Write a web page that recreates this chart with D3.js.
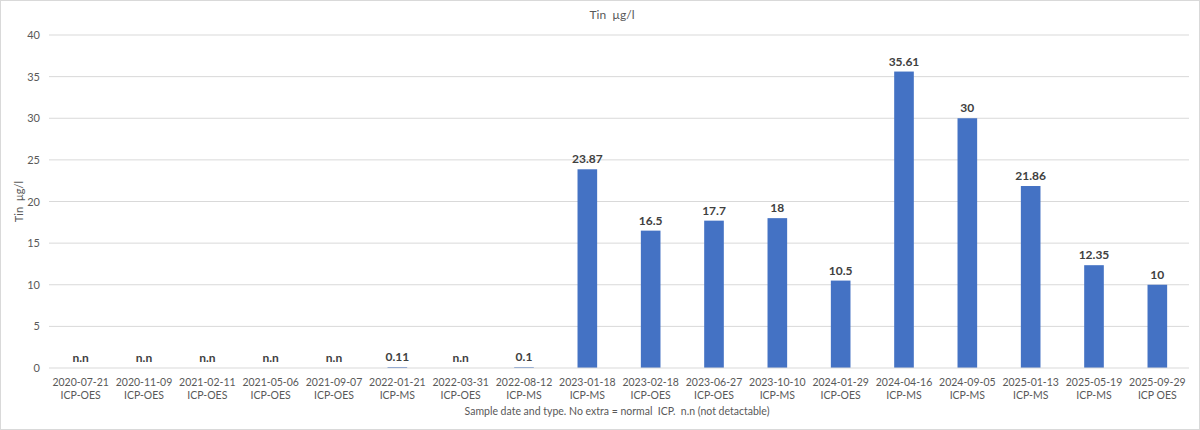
<!DOCTYPE html>
<html>
<head>
<meta charset="utf-8">
<script src="https://cdn.jsdelivr.net/npm/d3@7"></script>
<style>
  body { margin: 0; background: #fff; }
  svg { display: block; font-family: Lato, "Liberation Sans", sans-serif; }
  text { white-space: pre; }
</style>
</head>
<body>
<svg id="chart" width="1200" height="430"></svg>
<script>
// sample dates + method, one per bar
var dates = ["2020-07-21","2020-11-09","2021-02-11","2021-05-06","2021-09-07","2022-01-21",
    "2022-03-31","2022-08-12","2023-01-18","2023-02-18","2023-06-27","2023-10-10",
    "2024-01-29","2024-04-16","2024-09-05","2025-01-13","2025-05-19","2025-09-29"];
var methods = ["ICP-OES","ICP-OES","ICP-OES","ICP-OES","ICP-OES","ICP-MS",
    "ICP-OES","ICP-MS","ICP-MS","ICP-OES","ICP-OES","ICP-MS",
    "ICP-OES","ICP-MS","ICP-MS","ICP-MS","ICP-MS","ICP OES"];
// null = n.n (not detectable)
var tin = [null,null,null,null,null,0.11,null,0.1,23.87,16.5,17.7,18,10.5,35.61,30,21.86,12.35,10];
var yTicks = [0,5,10,15,20,25,30,35,40];

var svg = d3.select("#chart");
var W = 1200, H = 430;
var m = {left: 49, right: 1189, top: 35, bottom: 368};

svg.append("rect")
    .attr("x",0.5).attr("y",0.5)
    .attr("width",W-1).attr("height",H-1)
    .attr("fill","#fff").attr("stroke","#d9d9d9");

var x = d3.scaleBand()
    .domain(d3.range(dates.length))
    .range([m.left,m.right])
    .paddingInner(0.69)
    .paddingOuter(0.345);

var y = d3.scaleLinear().domain([0,40]).range([m.bottom,m.top]);

// gridlines
svg.append("g")
    .selectAll("line")
    .data(yTicks.slice(1))
    .enter()
    .append("line")
    .attr("x1",m.left).attr("x2",m.right)
    .attr("y1",function(d){ return y(d); })
    .attr("y2",function(d){ return y(d); })
    .attr("stroke","#d9d9d9");

// y axis labels
var yAxis = d3.axisLeft(y).tickValues(yTicks).tickSize(0).tickPadding(9);
var gy = svg.append("g").attr("transform","translate("+m.left+",0)").call(yAxis);
gy.select(".domain").remove();
gy.selectAll("text")
    .attr("fill","#595959")
    .style("font-family","Lato, sans-serif")
    .style("font-size","11px");

// bars
svg.append("g")
    .selectAll("rect")
    .data(tin)
    .enter()
    .append("rect")
    .attr("x",function(d,i){ return x(i); })
    .attr("width",x.bandwidth())
    .attr("y",function(d){ return y(d || 0); })
    .attr("height",function(d){ return y(0) - y(d || 0); })
    .attr("fill","#4472c4");

// baseline
svg.append("line")
    .attr("x1",m.left).attr("x2",m.right)
    .attr("y1",y(0)).attr("y2",y(0))
    .attr("stroke","#d9d9d9");

// value labels
svg.append("g")
    .selectAll("text")
    .data(tin)
    .enter()
    .append("text")
    .attr("x",function(d,i){ return x(i) + x.bandwidth()/2; })
    .attr("y",function(d){ return y(d || 0) - 6; })
    .attr("text-anchor","middle")
    .attr("fill","#404040")
    .style("font-size","12px")
    .style("font-weight","bold")
    .text(function(d){ return d === null ? "n.n" : d; });

// x labels, two lines
var xl = svg.append("g")
    .selectAll("text")
    .data(dates)
    .enter()
    .append("text")
    .attr("x",function(d,i){ return x(i) + x.bandwidth()/2; })
    .attr("y",386)
    .attr("text-anchor","middle")
    .attr("fill","#595959")
    .style("font-size","10.5px");
xl.append("tspan").text(function(d){ return d; });
xl.append("tspan")
    .attr("x",function(d,i){ return x(i) + x.bandwidth()/2; })
    .attr("dy",13)
    .text(function(d,i){ return methods[i]; });

// titles
svg.append("text")
    .attr("x",612).attr("y",19)
    .attr("text-anchor","middle")
    .attr("fill","#595959")
    .style("font-size","12px")
    .text("Tin  µg/l");

svg.append("text")
    .attr("transform","translate(23,"+((m.top+m.bottom)/2)+") rotate(-90)")
    .attr("text-anchor","middle")
    .attr("fill","#595959")
    .style("font-size","11px")
    .text("Tin  µg/l");

svg.append("text")
    .attr("x",617).attr("y",415)
    .attr("text-anchor","middle")
    .attr("fill","#595959")
    .style("font-size","10.5px")
    .text("Sample date and type. No extra = normal  ICP.  n.n (not detactable)");
</script>
</body>
</html>
